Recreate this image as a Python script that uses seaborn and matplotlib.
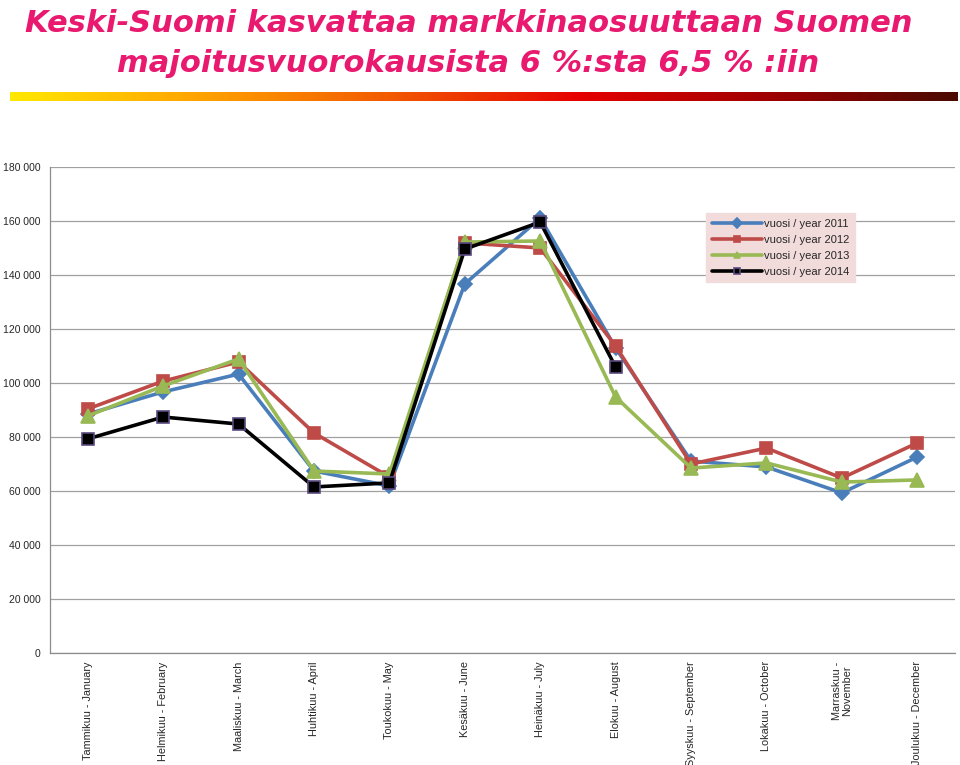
import numpy as np
import pandas as pd
import matplotlib.pyplot as plt
from matplotlib.colors import LinearSegmentedColormap
from matplotlib.ticker import FuncFormatter, MultipleLocator
import seaborn as sns

title = "Keski-Suomi kasvattaa markkinaosuuttaan Suomen\nmajoitusvuorokausista 6 %:sta 6,5 % :iin"

months = ["Tammikuu - January", "Helmikuu - February", "Maaliskuu - March",
          "Huhtikuu - April", "Toukokuu - May", "Kesäkuu - June",
          "Heinäkuu - July", "Elokuu - August", "Syyskuu - September",
          "Lokakuu - October", "Marraskuu -\nNovember", "Joulukuu - December"]

y2011 = [88500, 96700, 103300, 67400, 61900, 136700, 161100, 113000, 71100, 68900, 59300, 72600]
y2012 = [90400, 100700, 107800, 81500, 65200, 151900, 150000, 113700, 70000, 75900, 64800, 77800]
y2013 = [87800, 98900, 108900, 67400, 66300, 152200, 152600, 94800, 68500, 70400, 63300, 64100]
y2014 = [79300, 87400, 84800, 61500, 63000, 149600, 159600, 105900]

series = {
    "vuosi / year 2011": y2011,
    "vuosi / year 2012": y2012,
    "vuosi / year 2013": y2013,
    "vuosi / year 2014": y2014,
}

rows = []
for name, vals in series.items():
    for i, v in enumerate(vals):
        rows.append({"kk": i, "year": name, "value": v})
df = pd.DataFrame(rows)

colors = {"vuosi / year 2011": "#4a7ebb", "vuosi / year 2012": "#be4b48",
          "vuosi / year 2013": "#98b954", "vuosi / year 2014": "#000000"}
markers = {"vuosi / year 2011": "D", "vuosi / year 2012": "s",
           "vuosi / year 2013": "^", "vuosi / year 2014": "s"}
msizes = {"vuosi / year 2011": 7, "vuosi / year 2012": 9,
          "vuosi / year 2013": 10, "vuosi / year 2014": 8}

sns.set_style("white")
plt.rcParams["font.family"] = ["Liberation Sans", "DejaVu Sans"]

fig = plt.figure(figsize=(9.6, 7.65), dpi=100)

# otsikko
fig.text(0.488, 0.988, title, ha="center", va="top", color="#e8196e",
         fontsize=22, fontstyle="italic", fontweight="bold",
         family=["DejaVu Sans"], linespacing=1.45)

# liukuväripalkki
cmap = LinearSegmentedColormap.from_list(
    "bar", ["#ffe800", "#ffa200", "#f25a00", "#e60000", "#a00000", "#4a0a00"])
bax = fig.add_axes([10 / 960, 1 - 101 / 765, 948 / 960, 9 / 765])
bax.imshow(np.linspace(0, 1, 256)[None, :], aspect="auto", cmap=cmap)
bax.axis("off")

ax = fig.add_axes([50 / 960, 1 - 653 / 765, 905 / 960, 486 / 765])
for name in series:
    sub = df[df["year"] == name]
    edge = "#5a4a80" if name.endswith("2014") else colors[name]
    sns.lineplot(data=sub, x="kk", y="value", ax=ax, color=colors[name],
                 marker=markers[name], markersize=msizes[name],
                 markeredgecolor=edge, markeredgewidth=1.2,
                 linewidth=2.6, label=name)

ax.set_xlim(-0.5, 11.5)
ax.set_ylim(0, 180000)
ax.yaxis.set_major_locator(MultipleLocator(20000))
ax.yaxis.set_major_formatter(FuncFormatter(lambda v, p: f"{int(v):,}".replace(",", " ")))
ax.grid(axis="y", color="#a0a0a0", linewidth=0.9)
ax.set_axisbelow(True)
ax.set_xticks(range(12))
ax.set_xticklabels(months, rotation=90, fontsize=7.8, va="top", ha="center",
                   linespacing=0.95)
ax.set_xticks(np.arange(-0.5, 12, 1), minor=True)
ax.tick_params(axis="x", which="major", length=0, pad=6)
ax.tick_params(axis="x", which="minor", length=5, color="#8c8c8c", direction="out")
ax.tick_params(axis="y", labelsize=7.5, length=4, color="#8c8c8c", direction="out", pad=3)
ax.set_xlabel("")
ax.set_ylabel("")
for s in ["top", "right"]:
    ax.spines[s].set_visible(False)
for s in ["left", "bottom"]:
    ax.spines[s].set_color("#8c8c8c")
    ax.spines[s].set_linewidth(0.9)

leg = ax.legend(loc="upper left", bbox_to_anchor=(656 / 905, 1 - 46 / 486),
                fontsize=8, frameon=True, fancybox=False, handlelength=4.5,
                labelspacing=0.55, borderpad=0.5, handletextpad=0.2,
                borderaxespad=0)
leg.get_frame().set_facecolor("#f2dcdb")
leg.get_frame().set_edgecolor("#f2dcdb")
leg.get_frame().set_alpha(1)
for h in leg.legend_handles:
    h.set_markersize(5)

fig.savefig("out.png", dpi=100)
